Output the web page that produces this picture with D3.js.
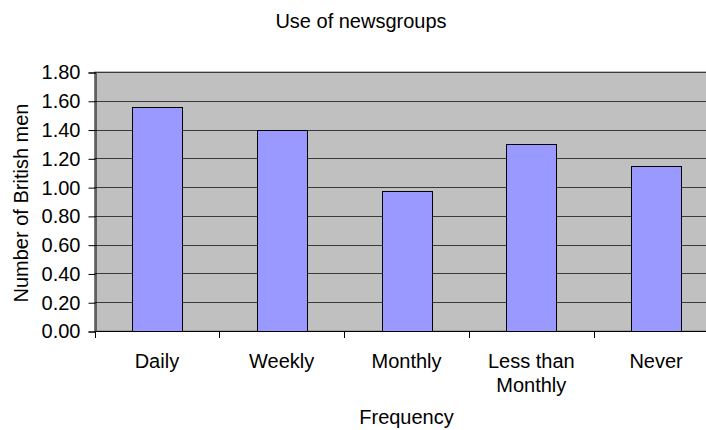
<!DOCTYPE html>
<html>
<head>
<meta charset="utf-8">
<script src="https://cdn.jsdelivr.net/npm/d3@7.9.0/dist/d3.min.js"></script>
<style>
  body { margin: 0; background: #fff; }
  svg { display: block; font-family: "Liberation Sans", Arial, sans-serif; }
</style>
</head>
<body>
<div id="chart"></div>
<script>
const categories = ['Daily', 'Weekly', 'Monthly', 'Less than\nMonthly', 'Never'];
const values = [1.56, 1.40, 0.97, 1.30, 1.15];
const yTicks = [0, 0.2, 0.4, 0.6, 0.8, 1.0, 1.2, 1.4, 1.6, 1.8];

const width = 706;
const height = 430;
const fontSize = 20;
const plot = { left: 94.5, right: 718.5, top: 72, bottom: 331 };

const svg = d3.select('#chart')
  .append('svg')
  .attr('width', width)
  .attr('height', height);

const x = d3.scaleBand()
  .domain(categories)
  .range([plot.left, plot.right])
  .paddingInner(0.6)
  .paddingOuter(0.3);

const y = d3.scaleLinear()
  .domain([0, 1.8])
  .range([plot.bottom, plot.top]);

// plot background
svg.append('rect')
  .attr('x', plot.left)
  .attr('y', plot.top)
  .attr('width', plot.right - plot.left)
  .attr('height', plot.bottom - plot.top)
  .attr('fill', '#c0c0c0')
  .attr('stroke', '#808080');

// gridlines
svg.append('g')
  .selectAll('line')
  .data(yTicks.slice(1))
  .join('line')
  .attr('x1', plot.left)
  .attr('x2', plot.right)
  .attr('y1', (d) => Math.round(y(d)) + 0.5)
  .attr('y2', (d) => Math.round(y(d)) + 0.5)
  .attr('stroke', '#3a3a3a')
  .attr('stroke-width', 1);

// bars
svg.append('g')
  .selectAll('rect')
  .data(values)
  .join('rect')
  .attr('x', (d, i) => Math.round(x(categories[i])) + 0.5)
  .attr('y', (d) => Math.round(y(d)) + 0.5)
  .attr('width', Math.round(x.bandwidth()))
  .attr('height', (d) => Math.round(y(0)) - Math.round(y(d)))
  .attr('fill', '#9999ff')
  .attr('stroke', '#000')
  .attr('stroke-width', 1);

// y axis
const yAxis = svg.append('g')
  .attr('transform', `translate(${Math.round(plot.left) + 0.5}, 0.5)`)
  .call(d3.axisLeft(y).tickValues(yTicks).tickFormat(d3.format('.2f')).tickSize(7).tickPadding(8));
yAxis.select('.domain').attr('stroke', '#000');
yAxis.selectAll('.tick line').attr('stroke', '#000');
yAxis.selectAll('.tick text')
  .attr('font-size', fontSize)
  .attr('font-family', '"Liberation Sans", Arial, sans-serif')
  .attr('fill', '#000');

// x axis line and boundary ticks
const step = x.step();
const boundaries = categories.map((c) => x(c) - step * 0.3);
svg.append('line')
  .attr('x1', plot.left)
  .attr('x2', plot.right)
  .attr('y1', Math.round(plot.bottom) + 0.5)
  .attr('y2', Math.round(plot.bottom) + 0.5)
  .attr('stroke', '#000');
svg.append('g')
  .selectAll('line')
  .data(boundaries)
  .join('line')
  .attr('x1', (d) => Math.round(d) + 0.5)
  .attr('x2', (d) => Math.round(d) + 0.5)
  .attr('y1', Math.round(plot.bottom))
  .attr('y2', Math.round(plot.bottom) + 7)
  .attr('stroke', '#000');

// x labels
const labels = svg.append('g')
  .selectAll('text')
  .data(categories)
  .join('text')
  .attr('text-anchor', 'middle')
  .attr('font-size', fontSize)
  .attr('fill', '#000');
labels.each(function (d) {
  const lines = d.split('\n');
  d3.select(this)
    .selectAll('tspan')
    .data(lines)
    .join('tspan')
    .attr('x', x(d) + x.bandwidth() / 2)
    .attr('y', (l, i) => 368 + i * 24)
    .text((l) => l);
});

// titles
svg.append('text')
  .attr('x', 361)
  .attr('y', 28)
  .attr('text-anchor', 'middle')
  .attr('font-size', fontSize)
  .text('Use of newsgroups');

svg.append('text')
  .attr('x', (plot.left + plot.right) / 2)
  .attr('y', 424)
  .attr('text-anchor', 'middle')
  .attr('font-size', fontSize)
  .text('Frequency');

svg.append('text')
  .attr('transform', `translate(28, 203) rotate(-90)`)
  .attr('text-anchor', 'middle')
  .attr('font-size', fontSize)
  .text('Number of British men');
</script>
</body>
</html>
